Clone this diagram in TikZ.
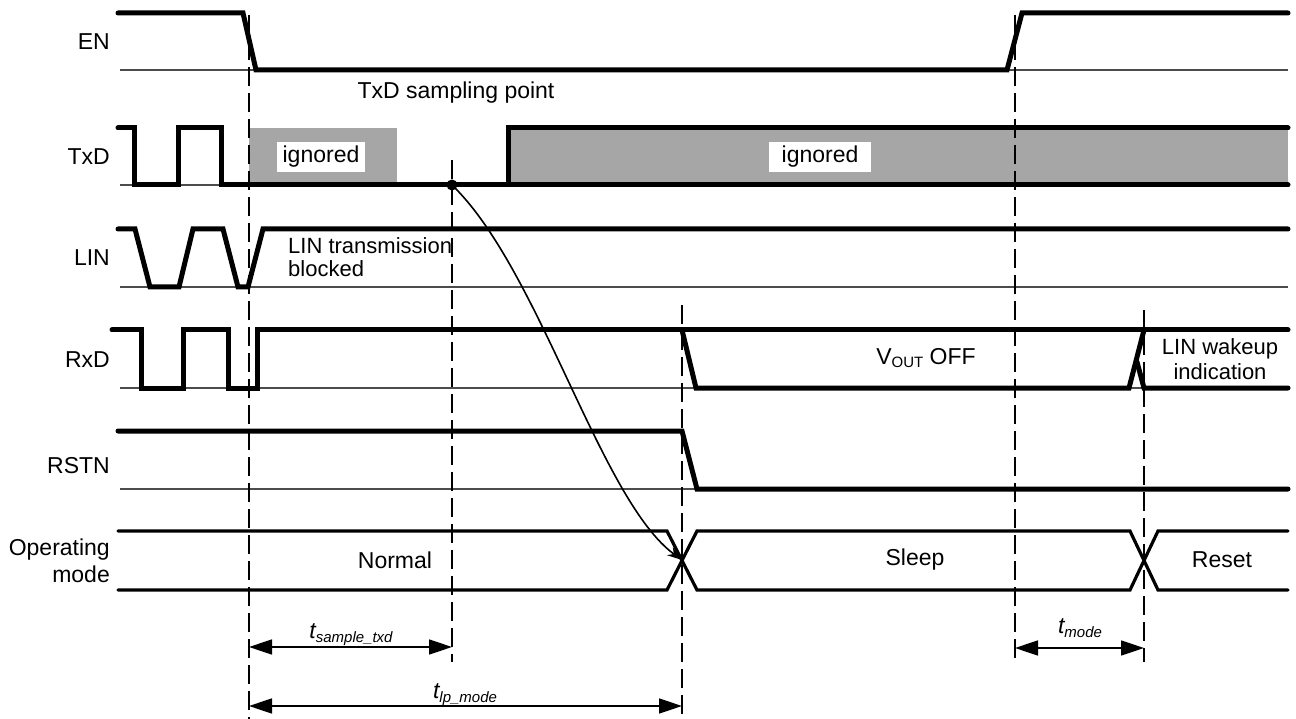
\documentclass[tikz,border=0pt]{standalone}
\usepackage{fontspec}
\setmainfont{Liberation Sans}
\usetikzlibrary{arrows.meta}
\definecolor{igngray}{HTML}{A6A6A6}
\begin{document}
\begin{tikzpicture}[x=1pt,y=-1pt,
  sig/.style={line width=5pt,line cap=round,line join=miter},
  base/.style={line width=1.2pt,draw=black!70},
  modeline/.style={line width=3.2pt,line cap=round,line join=miter},
  guide/.style={line width=1.8pt,dash pattern=on 19pt off 7pt},
  lbl/.style={font=\fontsize{23}{27}\selectfont,anchor=east,align=right,inner sep=0pt},
  txt/.style={font=\fontsize{23}{25}\selectfont,inner sep=0pt},
  ign/.style={fill=white,inner sep=0pt,minimum height=30pt,font=\fontsize{23}{27}\selectfont},
  dimarrow/.style={line width=1.6pt,{Triangle[length=23pt,width=15pt]}-{Triangle[length=23pt,width=15pt]}},
  tl/.style={font=\fontsize{23}{27}\selectfont\itshape,inner sep=0pt,anchor=base}
]
\useasboundingbox (0,0) rectangle (1296,719);

% grey "ignored" areas
\fill[igngray] (249,128) rectangle (397,185);
\fill[igngray] (508,128) rectangle (1288,185);

% thin baselines
\coordinate (b1l) at (120,70);  \coordinate (b1r) at (1288,70);
\coordinate (b2l) at (120,185); \coordinate (b2r) at (1288,185);
\coordinate (b3l) at (120,287); \coordinate (b3r) at (1288,287);
\coordinate (b4l) at (120,388); \coordinate (b4r) at (1288,388);
\coordinate (b5l) at (120,489); \coordinate (b5r) at (1288,489);
\draw[base] (b1l) -- (b1r);
\draw[base] (b2l) -- (b2r);
\draw[base] (b3l) -- (b3r);
\draw[base] (b4l) -- (b4r);
\draw[base] (b5l) -- (b5r);

% dashed guides
\coordinate (g1t) at (249,15);   \coordinate (g1b) at (249,719);
\coordinate (g2t) at (452,160);  \coordinate (g2b) at (452,662);
\coordinate (g3t) at (682,305);  \coordinate (g3b) at (682,719);
\coordinate (g4t) at (1015,15);  \coordinate (g4b) at (1015,662);
\coordinate (g5t) at (1144,310); \coordinate (g5b) at (1144,662);
\draw[guide] (g1t) -- (g1b);
\draw[guide] (g2t) -- (g2b);
\draw[guide] (g3t) -- (g3b);
\draw[guide] (g4t) -- (g4b);
\draw[guide] (g5t) -- (g5b);

% EN
\draw[sig] (118,13) -- (243,13) -- (256,70) -- (1007,70) -- (1022,13) -- (1288,13);
% TxD
\draw[sig] (118,128) -- (134,128) -- (134,185) -- (178,185) -- (178,128) -- (221,128) -- (221,185) -- (508,185) -- (508,128) -- (1288,128);
\draw[sig] (508,185) -- (1288,185);
% LIN
\draw[sig] (118,229) -- (135,229) -- (150,287) -- (179,287) -- (193,229) -- (223,229) -- (238,287) -- (248,287) -- (263,229) -- (1288,229);
% RxD
\draw[sig] (112,330) -- (141,330) -- (141,388) -- (183,388) -- (183,330) -- (228,330) -- (228,388) -- (257,388) -- (257,330) -- (1288,330);
\draw[sig] (682,330) -- (696,388) -- (1129,388) -- (1144,330);
\draw[sig] (1137,362) -- (1144,388) -- (1288,388);
% RSTN
\draw[sig] (118,431) -- (682,431) -- (697,489) -- (1288,489);
% Operating mode
\draw[modeline] (118,531) -- (667,531) -- (697,590) -- (1130,590) -- (1158,531) -- (1288,531);
\draw[modeline] (118,590) -- (667,590) -- (697,531) -- (1130,531) -- (1158,590) -- (1288,590);

% row labels
\node[lbl] (en) at (110,42) {EN};
\node[lbl] (txd) at (110,157) {TxD};
\node[lbl] (lin) at (110,258) {LIN};
\node[lbl] (rxd) at (110,360) {RxD};
\node[lbl] (rstn) at (110,466) {RSTN};
\node[lbl] (opm) at (110,561) {Operating\\mode};

% annotations
\node[txt] (samp) at (456,93) {TxD sampling point};
\node[ign,minimum width=88pt] (ig1) at (321,157) {ignored};
\node[ign,minimum width=102pt] (ig2) at (820,157) {ignored};
\node[txt,anchor=west,align=left,font=\fontsize{22}{23}\selectfont] (blk) at (288,257) {LIN transmission\\blocked};
\node[txt] (vout) at (926,358) {V\raisebox{-3pt}{\fontsize{15}{15}\selectfont OUT} OFF};
\node[txt,align=center,font=\fontsize{22}{25}\selectfont] (wake) at (1220,359) {LIN wakeup\\indication};
\node[txt] (normal) at (395,560) {Normal};
\node[txt] (sleep) at (915,560) {Sleep};
\node[txt] (reset) at (1222,560) {Reset};

% sampling point and curved arrow
\node[circle,fill=black,inner sep=0pt,minimum size=11pt] (dot) at (452,185) {};
\coordinate (x1) at (682,560);
\draw[line width=1.6pt,-{Stealth[length=15pt,width=10pt]}] (dot.center) .. controls (540,270) and (600,500) .. (x1);

% dimension arrows
\coordinate (d1l) at (249,647); \coordinate (d1r) at (452,647);
\coordinate (d2l) at (249,706); \coordinate (d2r) at (682,706);
\coordinate (d3l) at (1015,648); \coordinate (d3r) at (1144,648);
\draw[dimarrow] (d1l) -- (d1r);
\draw[dimarrow] (d2l) -- (d2r);
\draw[dimarrow] (d3l) -- (d3r);
\node[tl] (ts) at (351,638) {t\raisebox{-4pt}{\fontsize{15}{15}\selectfont\itshape sample\_txd}};
\node[tl] (tlp) at (465,698) {t\raisebox{-4pt}{\fontsize{15}{15}\selectfont\itshape lp\_mode}};
\node[tl] (tm) at (1080,633) {t\raisebox{-4pt}{\fontsize{15}{15}\selectfont\itshape mode}};
\end{tikzpicture}
\end{document}
